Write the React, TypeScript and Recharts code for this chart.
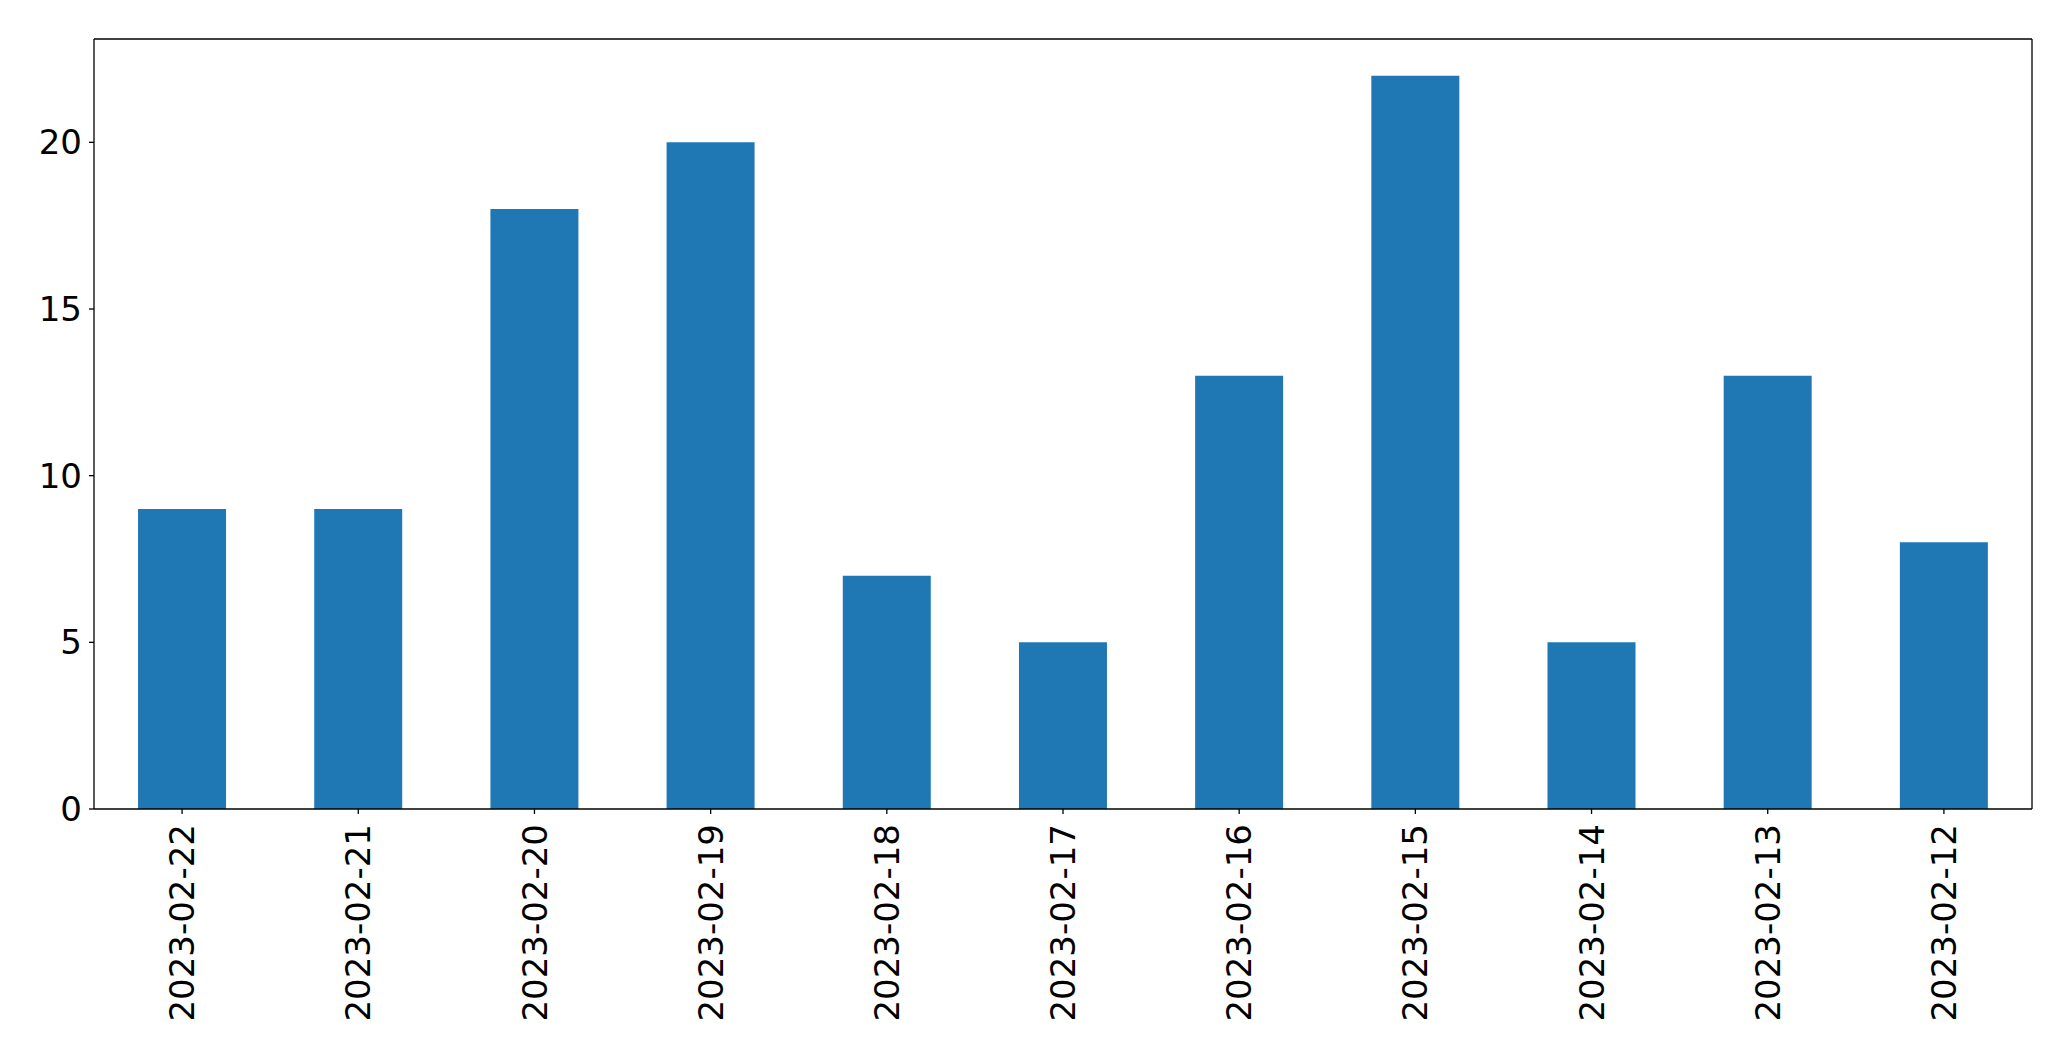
import { BarChart, Bar, XAxis, YAxis } from "recharts";

const dates = [
  "2023-02-22",
  "2023-02-21",
  "2023-02-20",
  "2023-02-19",
  "2023-02-18",
  "2023-02-17",
  "2023-02-16",
  "2023-02-15",
  "2023-02-14",
  "2023-02-13",
  "2023-02-12",
];
const counts = [9, 9, 18, 20, 7, 5, 13, 22, 5, 13, 8];
const yTicks = [0, 5, 10, 15, 20];

const FONT = "'DejaVu Sans', sans-serif";

const data = dates.map((d, i) => ({ date: d, count: counts[i] }));

const DateTick = ({ x, y, payload }: any) => (
  <text
    transform={`translate(${x},${y}) rotate(-90)`}
    textAnchor="end"
    dy="0.355em"
    fontSize={34}
    fontFamily={FONT}
    fill="#000"
  >
    {payload.value}
  </text>
);

const frameLine = { stroke: "#000", strokeWidth: 1.3 };

const App = () => {
  return (
    <div style={{ position: "absolute", left: 0, top: 0, background: "#fff" }}>
      <BarChart
        width={2071}
        height={1061}
        data={data}
        margin={{ top: 38, right: 38, left: 0, bottom: 0 }}
        barCategoryGap="25%"
      >
        <XAxis
          dataKey="date"
          height={252}
          interval={0}
          tick={<DateTick />}
          tickSize={5}
          tickMargin={10}
          axisLine={frameLine}
          tickLine={frameLine}
        />
        {/* top border of the frame */}
        <XAxis xAxisId="top" orientation="top" dataKey="date" height={1} tick={false} tickLine={false} axisLine={frameLine} />
        <YAxis
          width={94}
          domain={[0, 23.1]}
          ticks={yTicks}
          interval={0}
          tickSize={5}
          tickMargin={7}
          tick={{ fontSize: 34, fontFamily: FONT, fill: "#000" }}
          axisLine={frameLine}
          tickLine={frameLine}
          allowDataOverflow
        />
        {/* right border of the frame */}
        <YAxis yAxisId="right" orientation="right" width={1} domain={[0, 23.1]} tick={false} tickLine={false} axisLine={frameLine} />
        <Bar dataKey="count" fill="#1f77b4" isAnimationActive={false} />
      </BarChart>
    </div>
  );
};

export default App;
